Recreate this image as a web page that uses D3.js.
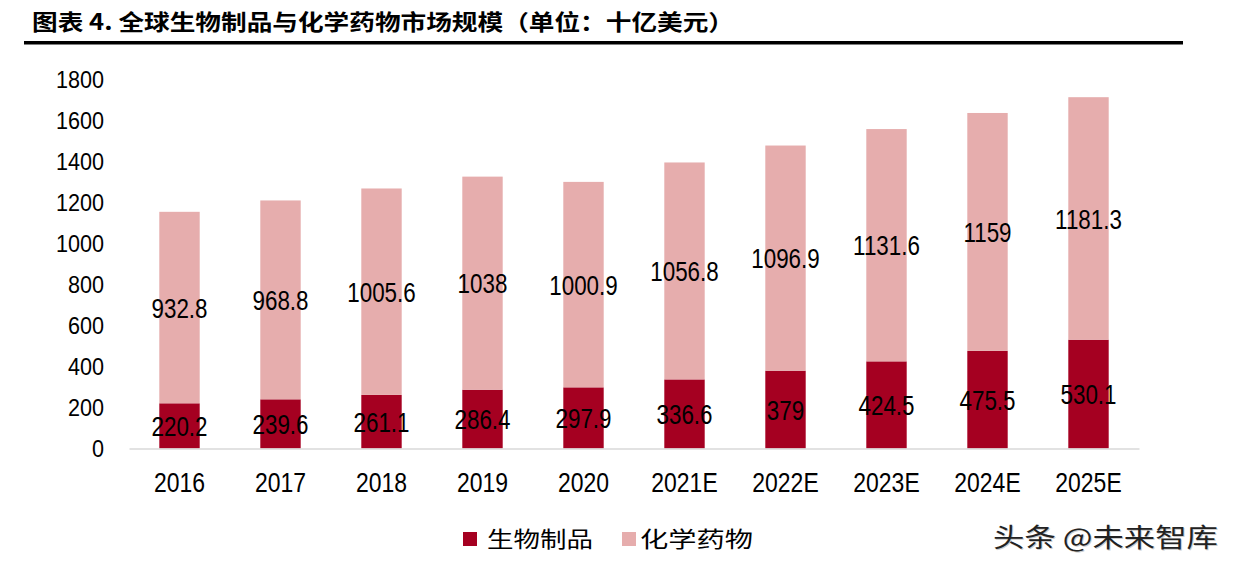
<!DOCTYPE html>
<html>
<head>
<meta charset="utf-8">
<script src="https://cdn.jsdelivr.net/npm/d3@7/dist/d3.min.js"></script>
<style>
  html, body { margin: 0; padding: 0; background: #fff; }
  svg { display: block; }
</style>
</head>
<body>
<svg id="chart" width="1235" height="573"></svg>
<script>
// ---- data ----
const categories = ["2016", "2017", "2018", "2019", "2020", "2021E", "2022E", "2023E", "2024E", "2025E"];
const biologics = [220.2, 239.6, 261.1, 286.4, 297.9, 336.6, 379, 424.5, 475.5, 530.1];
const chemicals = [932.8, 968.8, 1005.6, 1038, 1000.9, 1056.8, 1096.9, 1131.6, 1159, 1181.3];
const seriesNames = ["生物制品", "化学药物"];
const yTicks = [0, 200, 400, 600, 800, 1000, 1200, 1400, 1600, 1800];
const titleText = "图表 4. 全球生物制品与化学药物市场规模（单位：十亿美元）";
const watermark = "头条 @未来智库";

const colors = ["#A50021", "#E6ADAD"];
const numFont = "'Liberation Sans', Arial, sans-serif";
const cjkFont = "'Noto Sans CJK SC', sans-serif";

const svg = d3.select("#chart");

// title
svg.append("text")
  .attr("x", 32).attr("y", 30)
  .attr("font-family", cjkFont).attr("font-weight", "bold")
  .attr("font-size", 22).attr("fill", "#000")
  .attr("textLength", 702).attr("lengthAdjust", "spacingAndGlyphs")
  .text(titleText);
svg.append("rect").attr("x", 24).attr("y", 41).attr("width", 1159).attr("height", 3.5).attr("fill", "#000");

// scales
const x = d3.scaleBand().domain(categories).range([129, 1139]).paddingInner(0.6).paddingOuter(0.3);
const y = d3.scaleLinear().domain([0, 1800]).range([448.5, 79]);

const rows = categories.map((c, i) => ({ cat: c, bio: biologics[i], chem: chemicals[i] }));
const stack = d3.stack().keys(["bio", "chem"])(rows);

// bars
stack.forEach((layer, li) => {
  svg.append("g").selectAll("rect").data(layer).join("rect")
    .attr("x", d => x(d.data.cat))
    .attr("width", x.bandwidth())
    .attr("y", d => y(d[1]))
    .attr("height", d => y(d[0]) - y(d[1]))
    .attr("fill", colors[li]);
});

// value labels
stack.forEach((layer, li) => {
  svg.append("g").selectAll("g").data(layer).join("g")
    .attr("transform", d => `translate(${x(d.data.cat) + x.bandwidth() / 2},${(y(d[0]) + y(d[1])) / 2}) scale(0.8,1)`)
    .append("text")
    .attr("text-anchor", "middle").attr("dy", "0.36em")
    .attr("font-family", numFont).attr("font-size", 28).attr("fill", "#000")
    .text(d => String(d.data[li === 0 ? "bio" : "chem"]));
});

// y axis
const yAxis = svg.append("g").attr("transform", "translate(129,0)")
  .call(d3.axisLeft(y).tickValues(yTicks).tickSize(0).tickFormat(d3.format("d")));
yAxis.select(".domain").remove();
yAxis.selectAll("text")
  .attr("x", 0).attr("dy", "0.36em")
  .attr("transform", "translate(-25,0) scale(0.92,1)")
  .attr("font-family", numFont).attr("font-size", 23.5).attr("fill", "#000")
  .attr("text-anchor", "end");

// x axis
const xAxis = svg.append("g").attr("transform", "translate(0,448.5)")
  .call(d3.axisBottom(x).tickSize(0));
xAxis.select(".domain").attr("stroke", "#D9D9D9").attr("stroke-width", 1.5);
xAxis.selectAll("text")
  .attr("y", 43.5).attr("dy", 0)
  .attr("transform", "scale(0.82,1)")
  .attr("font-family", numFont).attr("font-size", 28).attr("fill", "#000");

// legend
const legendItems = [
  { name: seriesNames[0], color: colors[0], sx: 463, tx: 487, tl: 106 },
  { name: seriesNames[1], color: colors[1], sx: 622, tx: 640, tl: 113 }
];
const lg = svg.append("g");
legendItems.forEach(it => {
  lg.append("rect").attr("x", it.sx).attr("y", 532).attr("width", 14).attr("height", 14).attr("fill", it.color);
  lg.append("text").attr("x", it.tx).attr("y", 547)
    .attr("font-family", cjkFont).attr("font-size", 22).attr("fill", "#000")
    .attr("textLength", it.tl).attr("lengthAdjust", "spacingAndGlyphs")
    .text(it.name);
});

// watermark
svg.append("text").attr("x", 994).attr("y", 548)
  .attr("font-family", cjkFont).attr("font-size", 26).attr("fill", "#ccc")
  .attr("textLength", 225).attr("lengthAdjust", "spacingAndGlyphs")
  .text(watermark);
svg.append("text").attr("x", 993).attr("y", 547)
  .attr("font-family", cjkFont).attr("font-size", 26).attr("fill", "#222")
  .attr("textLength", 225).attr("lengthAdjust", "spacingAndGlyphs")
  .text(watermark);
</script>
</body>
</html>
